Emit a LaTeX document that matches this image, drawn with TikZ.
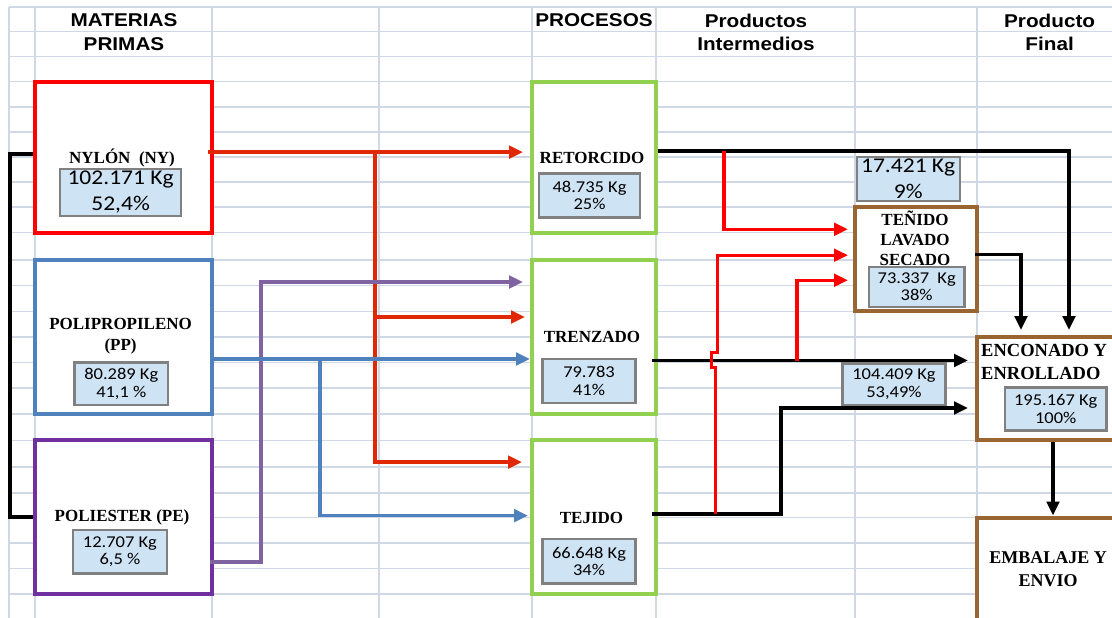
\documentclass[tikz,border=0pt]{standalone}
\usepackage{fontspec}
\setmainfont{Liberation Serif}
\newfontfamily\hdrfont[FakeStretch=1.12]{Liberation Sans}
\newfontfamily\numfont[FakeStretch=1.12]{Carlito}
\usepackage{xcolor}
\usepackage{tikz}
\usetikzlibrary{positioning, arrows.meta}

\definecolor{gridc}{RGB}{208,215,229}
\definecolor{nyred}{RGB}{255,0,0}
\definecolor{nyline}{RGB}{224,40,5}
\definecolor{ppblue}{RGB}{79,129,189}
\definecolor{pebox}{RGB}{112,48,160}
\definecolor{peline}{RGB}{128,100,162}
\definecolor{procgreen}{RGB}{146,208,80}
\definecolor{tnbrown}{RGB}{153,102,51}
\definecolor{valfill}{RGB}{206,227,243}
\definecolor{valdraw}{RGB}{128,128,128}

\begin{document}
\begin{tikzpicture}[
    x=1pt, y=-1pt,
    box/.style={rectangle, draw=#1, line width=4pt, fill=white, inner sep=0pt},
    val/.style={rectangle, draw=valdraw, line width=2.4pt, fill=valfill, align=center, inner sep=0pt, font=\numfont\fontsize{16.5}{17.5}\selectfont},
    bigval/.style={val, font=\numfont\fontsize{21}{26}\selectfont},
    lbl/.style={inner sep=0pt, align=center, font=\bfseries\fontsize{17}{21}\selectfont},
    hdr/.style={inner sep=0pt, font=\hdrfont\bfseries\fontsize{18.5}{23.5}\selectfont},
    arr/.style={-{Triangle[length=14pt, width=12.5pt]}, line width=3.4pt, draw=#1},
    arr/.default=black,
    lin/.style={line width=3.4pt, draw=#1},
    lin/.default=black,
]
    \useasboundingbox (0,0) rectangle (1112,618);
    \clip (0,0) rectangle (1112,618);
    \fill[white] (0,0) rectangle (1112,618);

    % Sheet grid
    \foreach \gy in {7,31.5,56.4,81.6,107.2,132,157,182,207,232.6,260,285.4,311.4,337,362.6,388,414,440.3,467,492.7,517.5,543,568.4,594}
        \draw[gridc, line width=1.6pt] (9,\gy) -- (1112,\gy);
    \foreach \gx in {9,35,212,379,532,656,855,977}
        \draw[gridc, line width=1.6pt] (\gx,7) -- (\gx,618);

    % Headers
    \node[hdr] (h1a) at (124,20.5) {MATERIAS};
    \node[hdr] (h1b) at (124,44) {PRIMAS};
    \node[hdr] (h2) at (594,20.5) {PROCESOS};
    \node[hdr] (h3a) at (756,20.5) {Productos};
    \node[hdr] (h3b) at (756,44) {Intermedios};
    \node[hdr] (h4a) at (1049.6,20.5) {Producto};
    \node[hdr] (h4b) at (1049.6,44) {Final};

    % Raw materials
    \node[box=nyred, minimum width=177pt, minimum height=151pt] (ny) at (123.5,157.1) {};
    \node[box=ppblue, minimum width=177pt, minimum height=154pt] (pp) at (123.5,337) {};
    \node[box=pebox, minimum width=177pt, minimum height=153.7pt] (pe) at (123.5,517.15) {};
    \node[lbl] (nyt) at (122,158) {NYLÓN~~(NY)};
    \node[lbl] (ppt) at (120.6,336.5) {POLIPROPILENO\\(PP)};
    \node[lbl] (pet) at (122,517.5) {POLIESTER (PE)};
    \node[bigval, minimum width=121pt, minimum height=47pt] (nyv) at (120.6,192.4) {102.171 Kg\\52,4\%};
    \node[val, minimum width=93.5pt, minimum height=42.4pt] (ppv) at (121.3,383.8) {80.289 Kg\\41,1 \%};
    \node[val, minimum width=93.7pt, minimum height=43.5pt] (pev) at (119.9,551.8) {12.707 Kg\\6,5 \%};

    % Processes
    \node[box=procgreen, minimum width=124pt, minimum height=151pt] (ret) at (594,157.1) {};
    \node[box=procgreen, minimum width=124pt, minimum height=154pt] (tre) at (594,337) {};
    \node[box=procgreen, minimum width=124pt, minimum height=153.7pt] (tej) at (594,517.15) {};
    \node[lbl] (rett) at (592,157.7) {RETORCIDO};
    \node[lbl] (tret) at (592,337) {TRENZADO};
    \node[lbl] (tejt) at (591.5,517.5) {TEJIDO};
    \node[val, minimum width=101pt, minimum height=44pt] (retv) at (589.5,195.5) {48.735 Kg\\25\%};
    \node[val, minimum width=93pt, minimum height=44pt] (trev) at (589,380.8) {79.783\\41\%};
    \node[val, minimum width=93pt, minimum height=44.4pt] (tejv) at (589,561.2) {66.648 Kg\\34\%};

    % Intermediate products
    \node[box=tnbrown, minimum width=122pt, minimum height=104.4pt] (ten) at (916,259.2) {};
    \node[lbl, font=\bfseries\fontsize{17}{20}\selectfont] (tent) at (915,237.8) {TEÑIDO\\LAVADO\\SECADO};
    \node[val, minimum width=95.7pt, minimum height=39.8pt] (tenv) at (916.7,286.8) {73.337~ Kg\\38\%};
    \node[bigval, minimum width=103pt, minimum height=44pt] (sobv) at (908.2,179) {17.421 Kg\\9\%};
    \node[val, minimum width=102.8pt, minimum height=41.8pt] (intv) at (894,384.3) {104.409 Kg\\53,49\%};

    % Final product
    \node[box=tnbrown, minimum width=150pt, minimum height=103.3pt] (enc) at (1052,388.65) {};
    \node[box=tnbrown, minimum width=150pt, minimum height=122.5pt] (emb) at (1052,578.75) {};
    \node[lbl, align=left, anchor=west, font=\bfseries\fontsize{18.5}{23}\selectfont] (enct) at (981,361.5) {ENCONADO Y\\ENROLLADO};
    \node[val, minimum width=101.4pt, minimum height=43pt] (encv) at (1055.7,409) {195.167 Kg\\100\%};
    \node[lbl, font=\bfseries\fontsize{18}{22.5}\selectfont] (embt) at (1048,569) {EMBALAJE Y\\ENVIO};

    % Junctions
    \coordinate (nyo) at ([xshift=-6pt,yshift=5pt]ny.east);
    \coordinate (nyj) at (375,152.1);
    \coordinate (ppo) at ([yshift=-22pt]pp.east);
    \coordinate (ppj) at (320,359);
    \coordinate (peo) at ([xshift=-4pt,yshift=-45pt]pe.east);
    \coordinate (pej) at (261,282);
    \coordinate (brk) at (10,0);
    \coordinate (reto) at ([yshift=6pt]ret.east);
    \coordinate (retr) at (724,151.1);
    \coordinate (treo) at ([xshift=-6pt,yshift=-23.5pt]tre.east);
    \coordinate (trer) at (797,360.5);
    \coordinate (tejo) at ([xshift=-6pt,yshift=3pt]tej.east);
    \coordinate (tejr) at (715,514.15);
    \coordinate (tejb) at (781,408);
    \coordinate (teno) at ([xshift=-4pt,yshift=5pt]ten.east);

    % Arrows from raw materials
    \draw[lin] ([yshift=3pt]ny.west) -| (brk |- pe.west) -- (pe.west);
    \draw[arr=nyline, shorten >=7pt] (nyo) -- (nyo -| ret.west);
    \draw[arr=nyline, shorten >=5pt] (nyj) |- ([yshift=20pt]tre.west);
    \draw[arr=nyline, shorten >=8pt] (nyj) |- ([yshift=55pt]tej.west);
    \draw[arr=peline, shorten >=7pt] (peo) -| (pej) -- (pej -| tre.west);
    \draw[arr=ppblue] (ppo) -- (ppo -| tre.west);
    \draw[arr=ppblue, shorten >=2pt] (ppj) |- ([yshift=1.5pt]tej.west);

    % Arrows from processes
    \draw[arr, shorten >=5pt] (reto) -| ([xshift=17pt]enc.north);
    \draw[arr=red, shorten >=5pt] (retr) |- ([yshift=30pt]ten.west);
    \draw[arr, shorten >=7pt] (treo) -- (treo -| enc.west);
    \draw[arr=red, shorten >=5pt] (trer) |- ([yshift=-21pt]ten.west);
    \draw[arr, shorten >=7pt] (tejo) -| (tejb) -- (tejb -| enc.west);
    \draw[arr=red, line width=3pt, shorten >=5pt] (tejr) -- ++(0,-147) -- ++(-4,0) -- ++(0,-15) -- ++(6,0) |- ([yshift=4pt]ten.west);

    % Arrows to final product
    \draw[arr, shorten >=5pt] (teno) -| ([xshift=-31pt]enc.north);
    \draw[arr] ([xshift=1pt]enc.south) -- ([xshift=1pt]emb.north);

\end{tikzpicture}
\end{document}
